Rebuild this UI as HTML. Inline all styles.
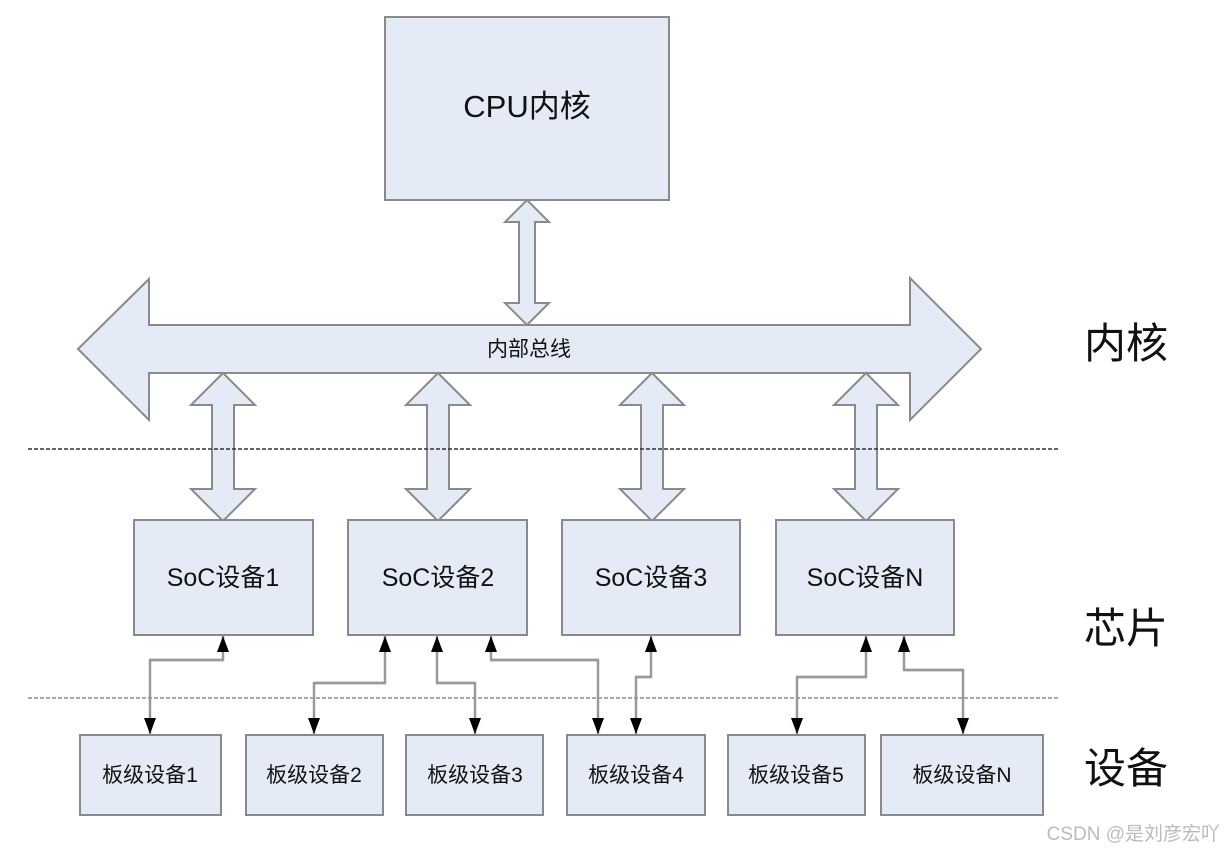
<!DOCTYPE html>
<html><head><meta charset="utf-8"><style>
html,body{margin:0;padding:0;background:#fff;}
svg{display:block;}
text{font-family:"Liberation Sans","Noto Sans CJK SC",sans-serif;fill:#111;}
</style></head><body>
<svg width="1228" height="854" viewBox="0 0 1228 854" xmlns="http://www.w3.org/2000/svg">
<defs>
<marker id="ah" markerWidth="16" markerHeight="12" refX="16" refY="6" orient="auto" markerUnits="userSpaceOnUse">
<path d="M0,0 L16,6 L0,12 Z" fill="#000"/>
</marker>
</defs>
<g fill="#e4ebf6" stroke="#8a8a8a" stroke-width="2">
<rect x="385" y="17" width="284" height="183"/>
<path d="M527,200 L549,222 L535,222 L535,303 L549,303 L527,325 L505,303 L519,303 L519,222 L505,222 Z"/>
<path d="M78,349 L149,279 L149,325 L910,325 L910,278 L981,349 L910,420 L910,373 L149,373 L149,420 Z"/>
</g>
<g fill="#e4ebf6" stroke="#8a8a8a" stroke-width="2">
<path d="M0,0 L32,32 L11,32 L11,116 L32,116 L0,148 L-32,116 L-11,116 L-11,32 L-32,32 Z" transform="translate(223,373)"/>
<path d="M0,0 L32,32 L11,32 L11,116 L32,116 L0,148 L-32,116 L-11,116 L-11,32 L-32,32 Z" transform="translate(438,373)"/>
<path d="M0,0 L32,32 L11,32 L11,116 L32,116 L0,148 L-32,116 L-11,116 L-11,32 L-32,32 Z" transform="translate(652,373)"/>
<path d="M0,0 L32,32 L11,32 L11,116 L32,116 L0,148 L-32,116 L-11,116 L-11,32 L-32,32 Z" transform="translate(866,373)"/>
</g>
<line x1="28" y1="449" x2="1060" y2="449" stroke="#333" stroke-width="1.5" stroke-dasharray="4,2"/>
<line x1="28" y1="698" x2="1060" y2="698" stroke="#aaa" stroke-width="2" stroke-dasharray="4,2"/>
<g fill="#e4ebf6" stroke="#8a8a8a" stroke-width="2">
<rect x="134" y="520" width="179" height="115"/>
<rect x="348" y="520" width="179" height="115"/>
<rect x="562" y="520" width="178" height="115"/>
<rect x="776" y="520" width="178" height="115"/>
<rect x="80" y="735" width="141" height="80"/>
<rect x="246" y="735" width="137" height="80"/>
<rect x="406" y="735" width="137" height="80"/>
<rect x="567" y="735" width="138" height="80"/>
<rect x="728" y="735" width="137" height="80"/>
<rect x="881" y="735" width="162" height="80"/>
</g>
<g fill="none" stroke="#999" stroke-width="2.5">
<polyline points="150,660 223,660 223,636" marker-end="url(#ah)"/>
<polyline points="223,660 150,660 150,734" marker-end="url(#ah)"/>
<polyline points="314,683 385,683 385,636" marker-end="url(#ah)"/>
<polyline points="385,683 314,683 314,734" marker-end="url(#ah)"/>
<polyline points="475,683 437,683 437,636" marker-end="url(#ah)"/>
<polyline points="437,683 475,683 475,734" marker-end="url(#ah)"/>
<polyline points="598,660 491,660 491,636" marker-end="url(#ah)"/>
<polyline points="491,660 598,660 598,734" marker-end="url(#ah)"/>
<polyline points="636,677 651,677 651,636" marker-end="url(#ah)"/>
<polyline points="651,677 636,677 636,734" marker-end="url(#ah)"/>
<polyline points="797,677 866,677 866,636" marker-end="url(#ah)"/>
<polyline points="866,677 797,677 797,734" marker-end="url(#ah)"/>
<polyline points="963,670 904,670 904,636" marker-end="url(#ah)"/>
<polyline points="904,670 963,670 963,734" marker-end="url(#ah)"/>
</g>
<text x="527" y="117" font-size="31" text-anchor="middle">CPU内核</text>
<text x="529" y="356" font-size="21" text-anchor="middle">内部总线</text>
<g font-size="25" text-anchor="middle">
<text x="223" y="586">SoC设备1</text>
<text x="438" y="586">SoC设备2</text>
<text x="651" y="586">SoC设备3</text>
<text x="865" y="586">SoC设备N</text>
</g>
<g font-size="21" text-anchor="middle">
<text x="150" y="782">板级设备1</text>
<text x="314" y="782">板级设备2</text>
<text x="475" y="782">板级设备3</text>
<text x="636" y="782">板级设备4</text>
<text x="796" y="782">板级设备5</text>
<text x="962" y="782">板级设备N</text>
</g>
<g font-size="42">
<text x="1084" y="358">内核</text>
<text x="1084" y="643">芯片</text>
<text x="1084" y="783">设备</text>
</g>
<text x="1220" y="840" font-size="19" text-anchor="end" style="fill:#bbb">CSDN @是刘彦宏吖</text>
</svg>
</body></html>
